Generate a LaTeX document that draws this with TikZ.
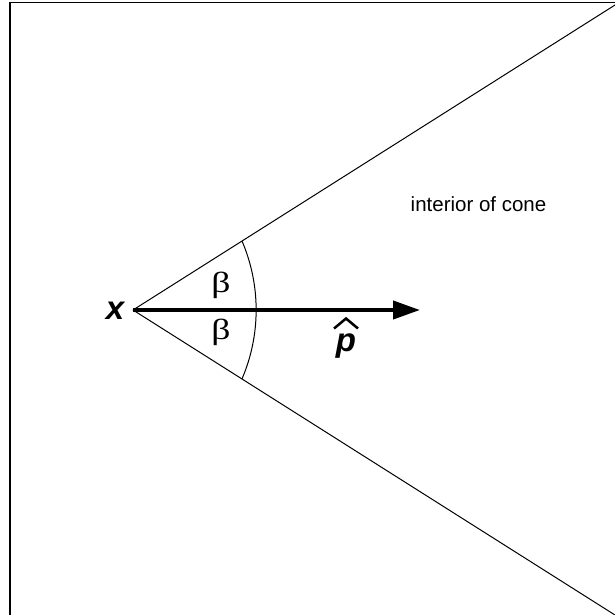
\documentclass[tikz,border=0pt]{standalone}
\usepackage{fontspec}
\newfontfamily\arialfont{Liberation Sans}
\newfontfamily\timesfont{Liberation Serif}
\usetikzlibrary{arrows.meta}
\begin{document}
\begin{tikzpicture}[x=1pt,y=-1pt,
  thinline/.style={line width=1pt},
  vec/.style={line width=4pt,-{Triangle[length=27pt,width=18pt]}},
  boldlabel/.style={inner sep=0pt,font=\arialfont\bfseries\itshape\fontsize{33}{33}\selectfont},
  greek/.style={inner sep=0pt,font=\timesfont\fontsize{29}{29}\selectfont},
  plain/.style={inner sep=0pt,font=\arialfont\fontsize{20.5}{20.5}\selectfont}]
\useasboundingbox (0,0) rectangle (615,614);
\clip (0,0) rectangle (615,614);
\draw[line width=1.5pt] (10,2.5) rectangle (660,660);
\coordinate (X) at (133,310);
\coordinate (U) at (615,5);
\coordinate (L) at (615,615);
\coordinate (P) at (420,310);
\coordinate (A1) at (242,241);
\draw[thinline] (X) -- (U);
\draw[thinline] (X) -- (L);
\draw[thinline] (A1) arc[start angle=23.2,end angle=-23.2,radius=175pt];
\draw[vec] (X) -- (P);
\node[boldlabel] (xlab) at (115,310.5) {x};
\node[boldlabel] (p) at (346,346) {p};
\draw[line width=2.5pt] ([shift={(-12,-5)}]p.north) -- ([shift={(0,-15)}]p.north) -- ([shift={(12,-5)}]p.north);
\node[greek] (b1) at (221,285) {\scalebox{1.3}[1]{β}};
\node[greek] (b2) at (221,332) {\scalebox{1.3}[1]{β}};
\node[plain,anchor=base west] (int) at (410.5,211.7) {interior of cone};
\end{tikzpicture}
\end{document}
